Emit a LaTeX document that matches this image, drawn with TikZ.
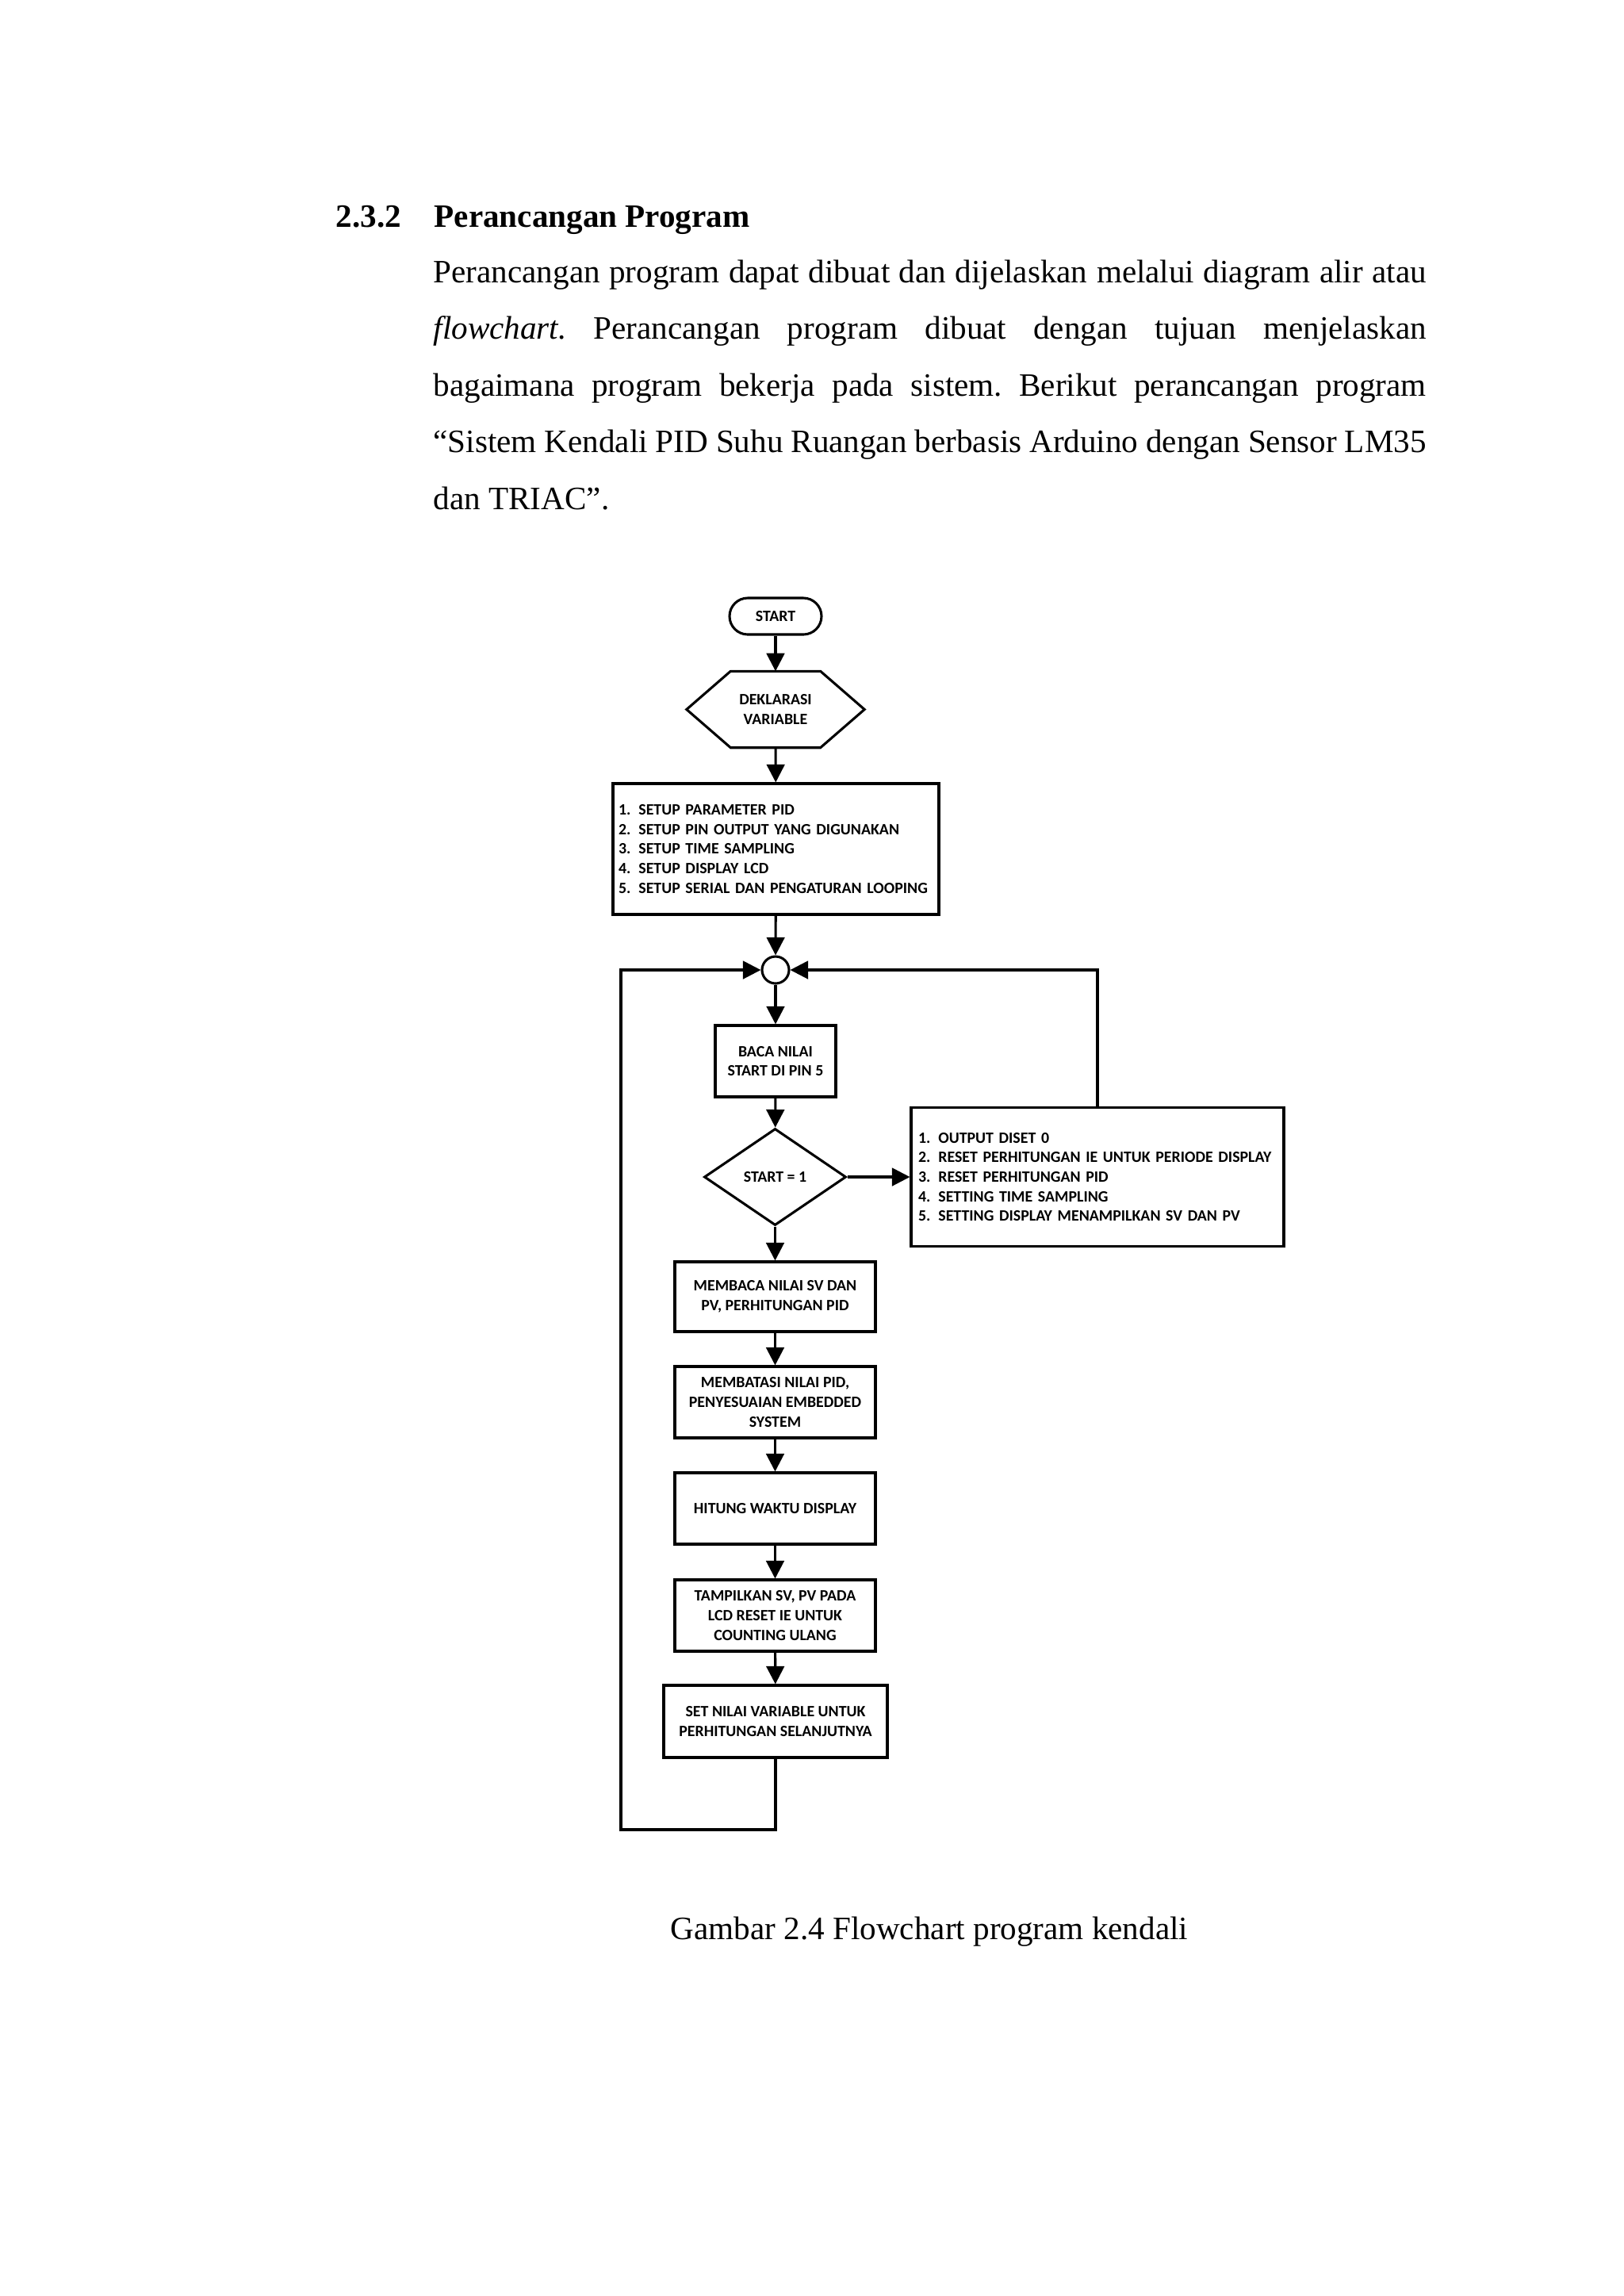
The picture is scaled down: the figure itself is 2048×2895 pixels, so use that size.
\documentclass[tikz,border=0pt]{standalone}
\usepackage{fontspec}
\setmainfont{Liberation Serif}
\newfontfamily\calibri{Carlito}
\usetikzlibrary{shapes.geometric,arrows.meta,calc}
\frenchspacing

\newcommand{\px}{0.1025390625mm}
\newcommand{\butir}[2]{\mbox{\makebox[7.4pt][l]{#1}#2}}

\tikzset{
  fc/.style={font=\calibri\bfseries\fontsize{5.8}{7.2}\selectfont},
  kotak/.style={fc, draw, rectangle, align=center, inner sep=0pt, line width=0.9pt},
  proses/.style={kotak, minimum width=253*\px, minimum height=90*\px},
  panah/.style={line width=0.9pt, -{Triangle[length=6.6pt,width=6.6pt]}},
  garis/.style={line width=0.9pt},
  teks/.style={font=\fontsize{12}{14}\selectfont, inner sep=0pt, anchor=base west},
  judul/.style={teks, font=\bfseries\fontsize{12}{14}\selectfont},
}

\begin{document}
\begin{tikzpicture}[x=\px, y=-\px]
\useasboundingbox (0,0) rectangle (2048,2895);

% sub bab dan paragraf
\node[judul] (nosub) at (423,286) {2.3.2};
\node[judul] (subbab) at (547,286) {Perancangan Program};
\node[teks] (par1) at (546,356) {\makebox[128.38mm][s]{Perancangan program dapat dibuat dan dijelaskan melalui diagram alir atau}};
\node[teks] (par2) at (546,427.5) {\makebox[128.38mm][s]{\textit{flowchart.} Perancangan program dibuat dengan tujuan menjelaskan}};
\node[teks] (par3) at (546,499) {\makebox[128.38mm][s]{bagaimana program bekerja pada sistem. Berikut perancangan program}};
\node[teks] (par4) at (546,570.5) {\makebox[128.38mm][s]{“Sistem Kendali PID Suhu Ruangan berbasis Arduino dengan Sensor LM35}};
\node[teks] (par5) at (546,642) {dan TRIAC”.};

% flowchart
\node[kotak, rounded corners=6.7pt, minimum width=116*\px, minimum height=46*\px] (start) at (978,777) {START};
\node[fc, rectangle, inner sep=0pt, align=center, minimum width=112*\px, minimum height=95*\px] (dekl) at (978,894.5) {DEKLARASI\\VARIABLE};
\draw[garis] (dekl.north west) -- (dekl.north east) -- ($(dekl.east)+(55.5,0)$) -- (dekl.south east)
  -- (dekl.south west) -- ($(dekl.west)+(-55.5,0)$) -- cycle;
\node[kotak, align=left, inner xsep=7*\px, text width=397*\px, minimum height=165*\px] (setup) at (978.5,1070.5)
  {\butir{1.}{SETUP PARAMETER PID}\\
   \butir{2.}{SETUP PIN OUTPUT YANG DIGUNAKAN}\\
   \butir{3.}{SETUP TIME SAMPLING}\\
   \butir{4.}{SETUP DISPLAY LCD}\\
   \butir{5.}{SETUP SERIAL DAN PENGATURAN LOOPING}};
\node[draw, circle, line width=0.9pt, minimum size=34*\px, inner sep=0pt] (jun) at (978,1223) {};
\node[kotak, minimum width=152*\px, minimum height=90*\px] (baca) at (978,1338) {BACA NILAI\\START DI PIN 5};
\node[kotak, diamond, minimum width=179*\px, minimum height=122*\px] (cek) at (977.5,1484) {START = 1};
\node[kotak, align=left, inner xsep=9*\px, text width=452*\px, minimum height=175*\px] (reset) at (1384,1484)
  {\butir{1.}{OUTPUT DISET 0}\\
   \butir{2.}{RESET PERHITUNGAN IE UNTUK PERIODE DISPLAY}\\
   \butir{3.}{RESET PERHITUNGAN PID}\\
   \butir{4.}{SETTING TIME SAMPLING}\\
   \butir{5.}{SETTING DISPLAY MENAMPILKAN SV DAN PV}};
\node[proses, minimum height=88*\px] (svpv) at (977.5,1635) {MEMBACA NILAI SV DAN\\PV, PERHITUNGAN PID};
\node[proses] (batas) at (977.5,1768) {MEMBATASI NILAI PID,\\PENYESUAIAN EMBEDDED\\SYSTEM};
\node[proses] (waktu) at (977.5,1902) {HITUNG WAKTU DISPLAY};
\node[proses] (tampil) at (977.5,2037) {TAMPILKAN SV, PV PADA\\LCD RESET IE UNTUK\\COUNTING ULANG};
\node[kotak, minimum width=282*\px, minimum height=91*\px] (setnilai) at (978,2170.5) {SET NILAI VARIABLE UNTUK\\PERHITUNGAN SELANJUTNYA};
\coordinate (kb) at (783,2307);
\coordinate (ka) at (783,1223);

\draw[panah] (start) -- (dekl);
\draw[panah] (dekl) -- (setup);
\draw[panah] (setup) -- (jun);
\draw[panah] (jun) -- (baca);
\draw[panah] (baca) -- (cek);
\draw[panah] (cek) -- (reset);
\draw[panah] (cek) -- (svpv);
\draw[panah] (svpv) -- (batas);
\draw[panah] (batas) -- (waktu);
\draw[panah] (waktu) -- (tampil);
\draw[panah] (tampil) -- (setnilai);
\draw[panah] (setnilai.south) |- (kb) -- (ka) -- (jun.west);
\draw[panah] (reset.north) |- (jun.east);

\node[teks, anchor=base] (caption) at (1172,2445) {Gambar 2.4 Flowchart program kendali};
\end{tikzpicture}
\end{document}
